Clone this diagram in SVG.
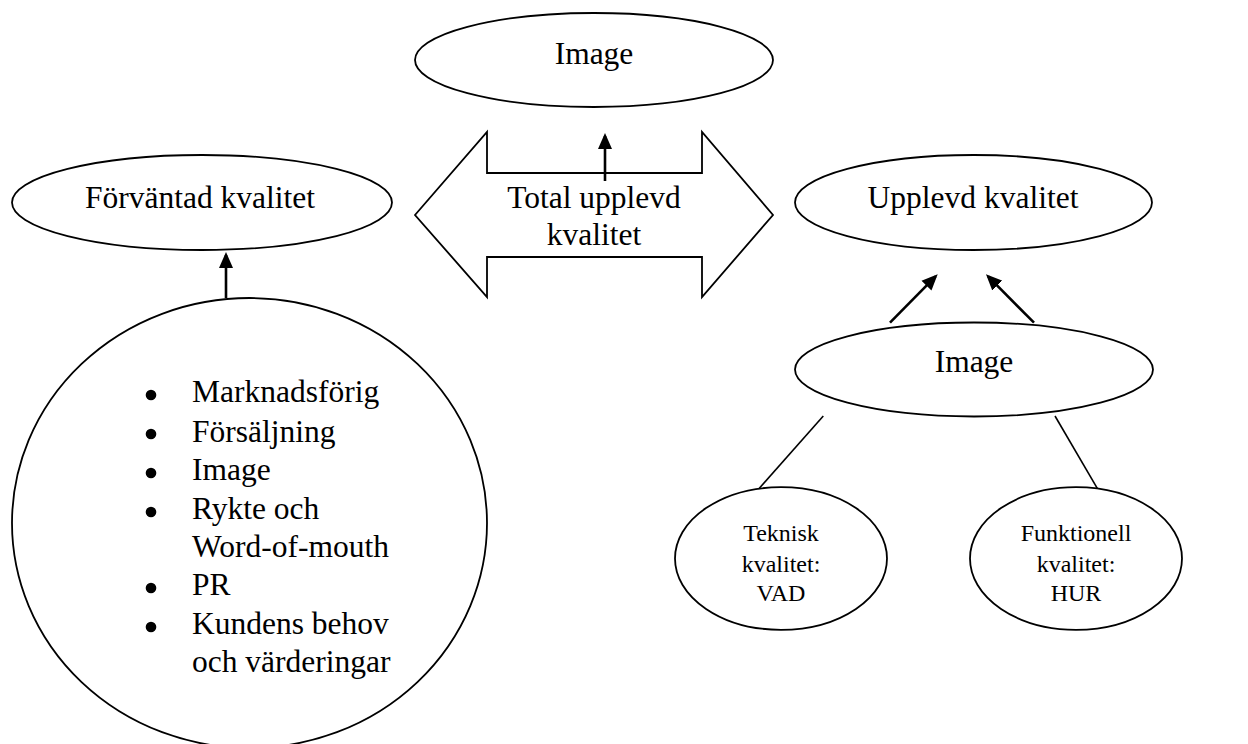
<svg xmlns="http://www.w3.org/2000/svg" width="1248" height="744" viewBox="0 0 1248 744">
<style>
.shape{fill:#fff;stroke:#000;stroke-width:1.8}
.t{font-family:"Liberation Serif","Times New Roman",serif;fill:#000}
.big{font-size:31.5px}
.sm{font-size:24px}
.conn{stroke:#000;stroke-width:2.6;fill:none}
.thin{stroke:#000;stroke-width:1.6;fill:none}
</style>
<defs>
<marker id="ah" markerUnits="userSpaceOnUse" markerWidth="16" markerHeight="16" viewBox="0 0 16 16" refX="13" refY="8" orient="auto">
<path d="M0,1 L16,8 L0,15 z" fill="#000"/>
</marker>
</defs>
<rect width="1248" height="744" fill="#fff"/>
<g id="image-top">
<ellipse class="shape" cx="594" cy="60" rx="179" ry="47"/>
<text class="t big" x="594" y="64" text-anchor="middle">Image</text>
</g>
<g id="total">
<polygon class="shape" points="415,215 487,132 487,173 702,173 702,132 773,215 702,297 702,257 487,257 487,297"/>
<text class="t big" x="594" y="208" text-anchor="middle">Total upplevd</text>
<text class="t big" x="594" y="245" text-anchor="middle">kvalitet</text>
</g>
<g id="forvantad">
<ellipse class="shape" cx="202" cy="202.5" rx="190" ry="47.5"/>
<text class="t big" x="200" y="208" text-anchor="middle">Förväntad kvalitet</text>
</g>
<g id="faktorer">
<ellipse class="shape" cx="249.5" cy="523" rx="237.5" ry="225"/>
<g fill="#000">
<circle cx="151" cy="395" r="5.3"/>
<circle cx="151" cy="434" r="5.3"/>
<circle cx="151" cy="473" r="5.3"/>
<circle cx="151" cy="512" r="5.3"/>
<circle cx="151" cy="588" r="5.3"/>
<circle cx="151" cy="627" r="5.3"/>
</g>
<text class="t big" x="192" y="402">Marknadsförig</text>
<text class="t big" x="192" y="442">Försäljning</text>
<text class="t big" x="192" y="480">Image</text>
<text class="t big" x="192" y="519">Rykte och</text>
<text class="t big" x="192" y="557">Word-of-mouth</text>
<text class="t big" x="192" y="595">PR</text>
<text class="t big" x="192" y="634">Kundens behov</text>
<text class="t big" x="192" y="672">och värderingar</text>
</g>
<g id="upplevd">
<ellipse class="shape" cx="973.5" cy="202.5" rx="178.5" ry="47.5"/>
<text class="t big" x="973" y="208" text-anchor="middle">Upplevd kvalitet</text>
</g>
<g id="image-right">
<ellipse class="shape" cx="974" cy="369.5" rx="179" ry="47"/>
<text class="t big" x="974" y="372" text-anchor="middle">Image</text>
</g>
<g id="teknisk">
<ellipse class="shape" cx="781" cy="558.5" rx="106" ry="71.3"/>
<text class="t sm" x="781" y="541" text-anchor="middle">Teknisk</text>
<text class="t sm" x="781" y="572" text-anchor="middle">kvalitet:</text>
<text class="t sm" x="781" y="601" text-anchor="middle">VAD</text>
</g>
<g id="funktionell">
<ellipse class="shape" cx="1076" cy="558.5" rx="106" ry="71.3"/>
<text class="t sm" x="1076" y="541" text-anchor="middle">Funktionell</text>
<text class="t sm" x="1076" y="572" text-anchor="middle">kvalitet:</text>
<text class="t sm" x="1076" y="601" text-anchor="middle">HUR</text>
</g>
<g id="connectors">
<line class="conn" x1="605" y1="181" x2="605" y2="136" marker-end="url(#ah)"/>
<line class="conn" x1="226" y1="298" x2="226" y2="255" marker-end="url(#ah)"/>
<line class="conn" x1="890" y1="322.7" x2="935.6" y2="276.4" marker-end="url(#ah)"/>
<line class="conn" x1="1034" y1="322.7" x2="988.1" y2="276.4" marker-end="url(#ah)"/>
<line class="thin" x1="823.3" y1="416" x2="759.3" y2="488.3"/>
<line class="thin" x1="1055" y1="416" x2="1097.3" y2="488.3"/>
</g>
</svg>
